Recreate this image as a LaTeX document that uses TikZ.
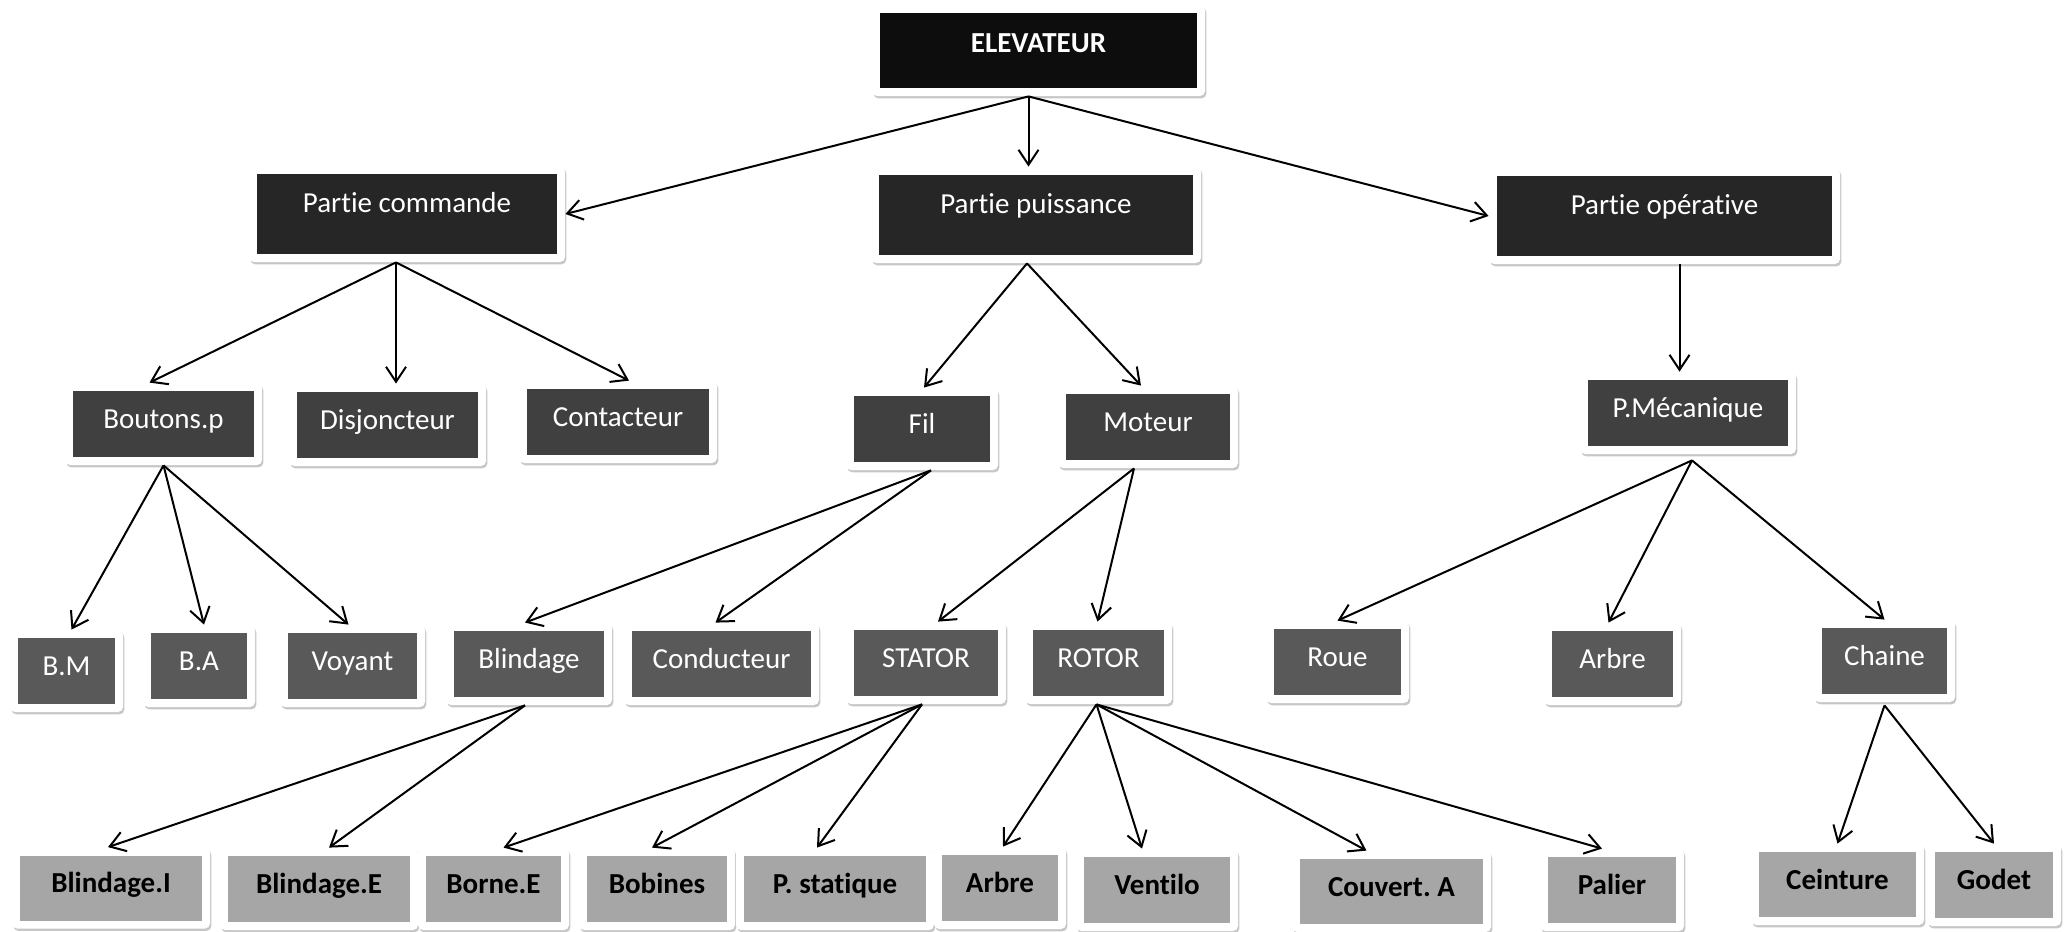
\documentclass[tikz,border=0pt]{standalone}
\usepackage{fontspec}
\setmainfont{Carlito}[Ligatures=NoCommon]
\frenchspacing
\usetikzlibrary{arrows.meta,calc,shadows}

% grey shades of the tree levels
\definecolor{lvz}{HTML}{0D0D0D}
\definecolor{lva}{HTML}{262626}
\definecolor{lvb}{HTML}{404040}
\definecolor{lvc}{HTML}{595959}
\definecolor{lvd}{HTML}{A6A6A6}

\tikzset{
  frame/.style={fill=white, draw=none, rounded corners=2.5pt, inner sep=0pt,
    drop shadow={shadow xshift=0.7pt, shadow yshift=-1.2pt, fill=black, opacity=0.22}},
  lab/.style={anchor=base, inner sep=0pt, font=\fontsize{14.5}{16}\selectfont},
  tw/.style={text=white},
  twb/.style={text=white, font=\fontsize{14.5}{16}\selectfont\bfseries},
  tbk/.style={text=black, font=\fontsize{14.5}{16}\selectfont\bfseries},
  arr/.style={-{Straight Barb[length=7.5pt,width=10pt]}, line width=1pt, black},
}

% #1 name, #2 x, #3 y, #4 width, #5 height, #6 fill, #7 text style, #8 text, #9 baseline shift
\newcommand\bx[9]{%
  \node[frame, minimum width={(#4+16)*0.5pt}, minimum height={(#5+16)*0.5pt}] (#1) at (#2,#3) {};
  \node[inner sep=0pt, fill=#6, minimum width={#4*0.5pt}, minimum height={#5*0.5pt}] (#1-in) at (#1) {};
  \node[lab, #7] at ($(#1)+(0,#9)$) {#8};
}

\begin{document}
\begin{tikzpicture}[x=0.5pt, y=-0.5pt]
\useasboundingbox (0,0) rectangle (2069,932);

% root
\bx{elev}{1038.5}{50.5}{317}{75}{lvz}{twb}{ELEVATEUR}{1.5}
% first level
\bx{pc}{407}{214}{300}{80}{lva}{tw}{Partie commande}{-2}
\bx{pp}{1036}{215}{314}{80}{lva}{tw}{Partie puissance}{-2}
\bx{po}{1664.5}{216}{335}{80}{lva}{tw}{Partie opérative}{-2}
% second level
\bx{bp}{163.5}{424}{181}{66}{lvb}{tw}{Boutons.p}{4.5}
\bx{dj}{387.5}{425}{181}{66}{lvb}{tw}{Disjoncteur}{4.5}
\bx{ct}{618}{422}{182}{66}{lvb}{tw}{Contacteur}{4.5}
\bx{fil}{922}{429}{136}{66}{lvb}{tw}{Fil}{4.5}
\bx{mot}{1148}{427}{164}{66}{lvb}{tw}{Moteur}{4.5}
\bx{pm}{1688}{413}{200}{66}{lvb}{tw}{P.Mécanique}{4.5}
% third level
\bx{bm}{66.5}{671}{97}{66}{lvc}{tw}{B.M}{4.5}
\bx{ba}{199}{666}{96}{66}{lvc}{tw}{B.A}{4.5}
\bx{voy}{352.5}{666}{129}{66}{lvc}{tw}{Voyant}{4.5}
\bx{bl}{529}{664}{150}{66}{lvc}{tw}{Blindage}{4.5}
\bx{cond}{721.5}{664}{179}{66}{lvc}{tw}{Conducteur}{4.5}
\bx{st}{926}{663}{144}{66}{lvc}{tw}{STATOR}{4.5}
\bx{rot}{1098.5}{663}{131}{66}{lvc}{tw}{ROTOR}{4.5}
\bx{roue}{1337.5}{662}{127}{66}{lvc}{tw}{Roue}{4.5}
\bx{arb}{1612.5}{664}{121}{66}{lvc}{tw}{Arbre}{4.5}
\bx{ch}{1884.5}{661}{125}{66}{lvc}{tw}{Chaine}{4.5}
% fourth level
\bx{bli}{111}{888}{182}{65}{lvd}{tbk}{Blindage.I}{4.5}
\bx{ble}{319}{889}{182}{66}{lvd}{tbk}{Blindage.E}{4.5}
\bx{bor}{493.5}{889}{135}{66}{lvd}{tbk}{Borne.E}{4.5}
\bx{bob}{657}{889}{140}{66}{lvd}{tbk}{Bobines}{4.5}
\bx{pst}{835}{889}{182}{66}{lvd}{tbk}{P. statique}{4.5}
\bx{arbb}{1000}{888}{116}{66}{lvd}{tbk}{Arbre}{4.5}
\bx{ven}{1157}{890}{146}{66}{lvd}{tbk}{Ventilo}{4.5}
\bx{cou}{1391.5}{891.5}{183}{65}{lvd}{tbk}{Couvert. A}{4.5}
\bx{pal}{1612}{890}{128}{66}{lvd}{tbk}{Palier}{4.5}
\bx{cei}{1837.5}{884.5}{157}{65}{lvd}{tbk}{Ceinture}{4.5}
\bx{god}{1994}{885}{118}{66}{lvd}{tbk}{Godet}{4.5}

% branching points under each parent
\coordinate (elevO) at ($(elev.south)+(-10,0)$);
\coordinate (pcO) at ($(pc.south)+(-11,0)$);
\coordinate (ppO) at ($(pp.south)+(-9,0)$);
\coordinate (poO) at ($(po.south)+(15,0)$);
\coordinate (bpO) at (bp.south);
\coordinate (filO) at ($(fil.south)+(9,0)$);
\coordinate (motO) at ($(mot.south)+(-14,0)$);
\coordinate (pmO) at ($(pm.south)+(4,6)$);
\coordinate (blO) at ($(bl.south)+(-4,0)$);
\coordinate (stO) at ($(st.south)+(-4,0)$);
\coordinate (rotO) at ($(rot.south)+(-2,0)$);
\coordinate (chO) at ($(ch.south)+(0,3)$);

% connectors
\draw[arr] (elevO) -- (pc.east);
\draw[arr] (elevO) -- (elevO |- pp.north);
\draw[arr] (elevO) -- (po.west);

\draw[arr] (pcO) -- ($(bp.north)+(-14,0)$);
\draw[arr] (pcO) -- (pcO |- dj.north);
\draw[arr] (pcO) -- ($(ct.north)+(11,0)$);

\draw[arr] (ppO) -- ($(fil.north)+(2,0)$);
\draw[arr] (ppO) -- ($(mot.north)+(-7,0)$);

\draw[arr] (poO) -- (poO |- pm.north);

\draw[arr] (bpO) -- ($(bm.north)+(5,0)$);
\draw[arr] (bpO) -- ($(ba.north)+(5,0)$);
\draw[arr] (bpO) -- ($(voy.north)+(-4,0)$);

\draw[arr] (filO) -- ($(bl.north)+(-4,0)$);
\draw[arr] (filO) -- ($(cond.north)+(-6,0)$);

\draw[arr] (motO) -- ($(st.north)+(12,0)$);
\draw[arr] (motO) -- ($(rot.north)+(-1,0)$);

\draw[arr] (pmO) -- (roue.north);
\draw[arr] (pmO) -- ($(arb.north)+(-4,0)$);
\draw[arr] (pmO) -- (ch.north);

\draw[arr] (blO) -- ($(bli.north)+(-3,0)$);
\draw[arr] (blO) -- ($(ble.north)+(10,0)$);

\draw[arr] (stO) -- ($(bor.north)+(10,0)$);
\draw[arr] (stO) -- ($(bob.north)+(-5,0)$);
\draw[arr] (stO) -- ($(pst.north)+(-18,0)$);

\draw[arr] (rotO) -- ($(arbb.north)+(3,0)$);
\draw[arr] (rotO) -- ($(ven.north)+(-15,0)$);
\draw[arr] (rotO) -- ($(cou.north)+(-25,0)$);
\draw[arr] (rotO) -- ($(pal.north)+(-10,0)$);

\draw[arr] (chO) -- (cei.north);
\draw[arr] (chO) -- (god.north);
\end{tikzpicture}
\end{document}
